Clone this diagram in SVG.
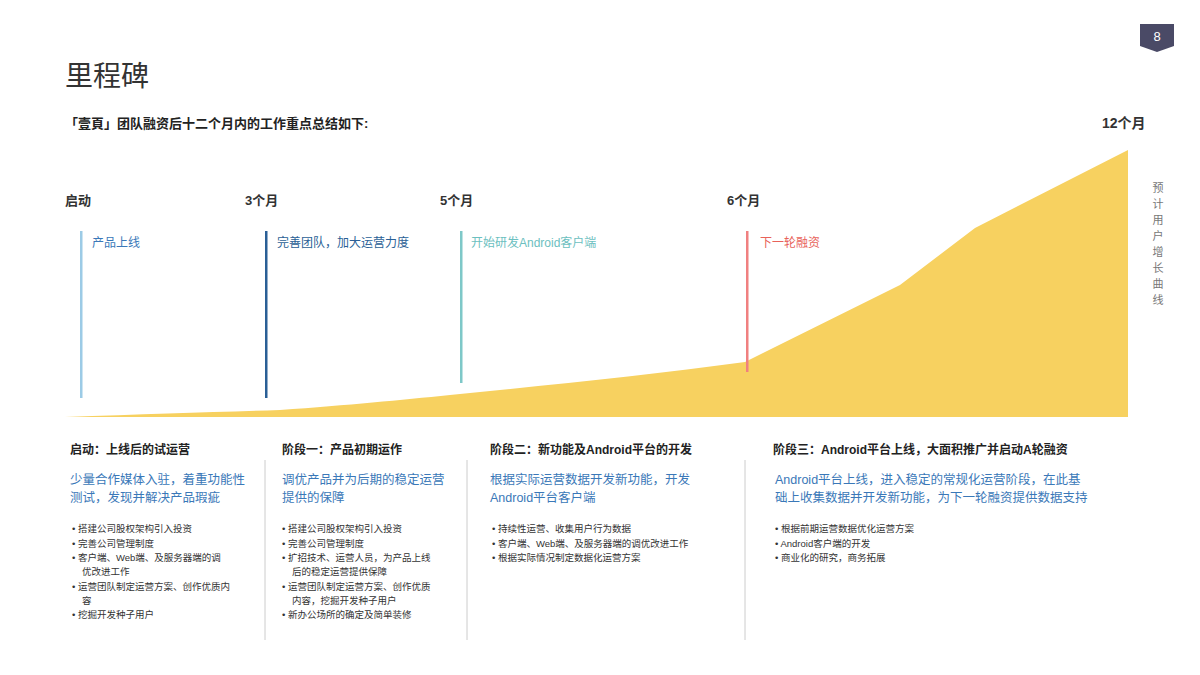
<svg xmlns="http://www.w3.org/2000/svg" width="1200" height="675" viewBox="0 0 1200 675">
<style>
text{font-family:"Liberation Sans","Noto Sans CJK SC",sans-serif;}
.m{font-size:13px;font-weight:bold;fill:#333}
.ev{font-size:12px}
.h{font-size:12px;font-weight:bold;fill:#222}
.d{font-size:12.5px;fill:#3a78b8}
.b{font-size:9.5px;fill:#333}
.sep{stroke:#ccc;stroke-width:1}
</style>
<rect width="1200" height="675" fill="#fff"/>
<text x="65" y="86" font-size="28" fill="#333">里程碑</text>
<text x="65" y="128" font-size="13" font-weight="bold" fill="#222">「壹頁」团队融资后十二个月内的工作重点总结如下:</text>
<g id="page"><path d="M1140 24h34v22l-17 6l-17-6z" fill="#4a4a66"/><text x="1157" y="41" font-size="13" fill="#fff" text-anchor="middle">8</text></g>
<text x="1102" y="128" font-size="14" font-weight="bold" fill="#333">12个月</text>
<g id="curve"><path d="M65 417 C150 414 220 412 280 410 C350 405 400 400 450 395 C550 385 650 375 745 362 L900 285 L975 228 L1128 150 L1128 417 Z" fill="#f7d160"/></g>
<g fill="#777" font-size="11"><text x="1158" y="192" text-anchor="middle">预</text><text x="1158" y="208" text-anchor="middle">计</text><text x="1158" y="224" text-anchor="middle">用</text><text x="1158" y="240" text-anchor="middle">户</text><text x="1158" y="256" text-anchor="middle">增</text><text x="1158" y="272" text-anchor="middle">长</text><text x="1158" y="288" text-anchor="middle">曲</text><text x="1158" y="304" text-anchor="middle">线</text></g>
<g id="m0"><text class="m" x="65" y="205">启动</text><rect x="80" y="231" width="2.5" height="167" fill="#9ccbe6"/><text class="ev" x="92" y="247" fill="#3a78b8">产品上线</text></g>
<g id="m3"><text class="m" x="245" y="205">3个月</text><rect x="265" y="231" width="2.5" height="167" fill="#2a5f96"/><text class="ev" x="277" y="247" fill="#2a5f96">完善团队，加大运营力度</text></g>
<g id="m5"><text class="m" x="440" y="205">5个月</text><rect x="460" y="231" width="2.5" height="152" fill="#7ec8c8"/><text class="ev" x="471" y="247" fill="#6cc0c0">开始研发Android客户端</text></g>
<g id="m6"><text class="m" x="727" y="205">6个月</text><rect x="746" y="231" width="2.5" height="141" fill="#f08080"/><text class="ev" x="760" y="247" fill="#e8625a">下一轮融资</text></g>
<g id="connectors"><line class="sep" x1="265" y1="460" x2="265" y2="640"/><line class="sep" x1="467" y1="460" x2="467" y2="640"/><line class="sep" x1="745" y1="460" x2="745" y2="640"/></g>
<g id="s0"><text class="h" x="70" y="454">启动：上线后的试运营</text><text class="d" x="70" y="484">少量合作媒体入驻，着重功能性</text><text class="d" x="70" y="502">测试，发现并解决产品瑕疵</text>
<g class="b"><text x="72" y="532">•  搭建公司股权架构引入投资</text><text x="72" y="547">•  完善公司管理制度</text><text x="72" y="561">•  客户端、Web端、及服务器端的调</text><text x="82" y="575">优改进工作</text><text x="72" y="590">•  运营团队制定运营方案、创作优质内</text><text x="82" y="604">容</text><text x="72" y="618">•  挖掘开发种子用户</text></g></g>
<g id="s1"><text class="h" x="282" y="454">阶段一：产品初期运作</text><text class="d" x="282" y="484">调优产品并为后期的稳定运营</text><text class="d" x="282" y="502">提供的保障</text>
<g class="b"><text x="282" y="532">•  搭建公司股权架构引入投资</text><text x="282" y="547">•  完善公司管理制度</text><text x="282" y="561">•  扩招技术、运营人员，为产品上线</text><text x="292" y="575">后的稳定运营提供保障</text><text x="282" y="590">•  运营团队制定运营方案、创作优质</text><text x="292" y="604">内容，挖掘开发种子用户</text><text x="282" y="618">•  新办公场所的确定及简单装修</text></g></g>
<g id="s2"><text class="h" x="490" y="454">阶段二：新功能及Android平台的开发</text><text class="d" x="490" y="484">根据实际运营数据开发新功能，开发</text><text class="d" x="490" y="502">Android平台客户端</text>
<g class="b"><text x="492" y="532">•  持续性运营、收集用户行为数据</text><text x="492" y="547">•  客户端、Web端、及服务器端的调优改进工作</text><text x="492" y="561">•  根据实际情况制定数据化运营方案</text></g></g>
<g id="s3"><text class="h" x="773" y="454">阶段三：Android平台上线，大面积推广并启动A轮融资</text><text class="d" x="775" y="484">Android平台上线，进入稳定的常规化运营阶段，在此基</text><text class="d" x="775" y="502">础上收集数据并开发新功能，为下一轮融资提供数据支持</text>
<g class="b"><text x="775" y="532">•  根据前期运营数据优化运营方案</text><text x="775" y="547">•  Android客户端的开发</text><text x="775" y="561">•  商业化的研究，商务拓展</text></g></g>
</svg>
